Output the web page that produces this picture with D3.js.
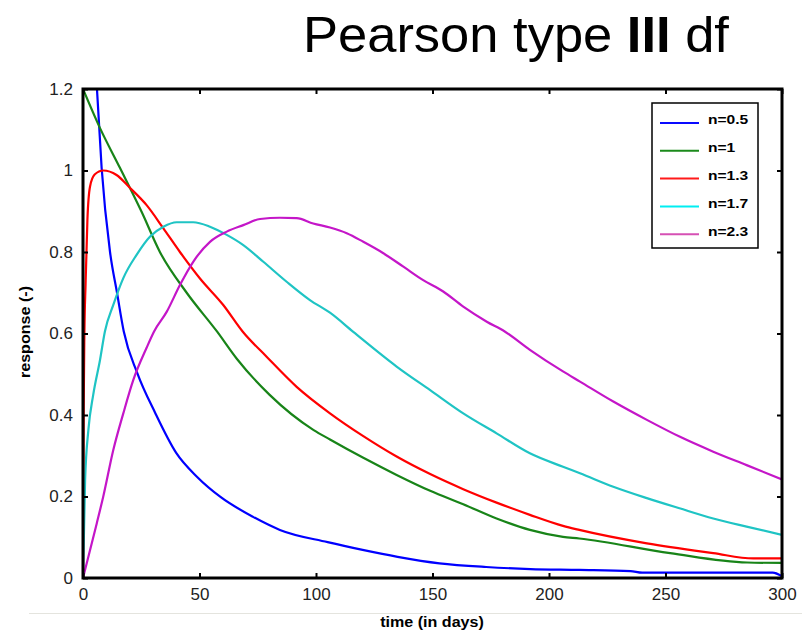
<!DOCTYPE html>
<html>
<head>
<meta charset="utf-8">
<script src="https://cdn.jsdelivr.net/npm/d3@7"></script>
<style>
  body { margin: 0; background: #fff; }
  svg { display: block; font-family: "Liberation Sans", Arial, sans-serif; }
</style>
</head>
<body>
<svg id="mysvg" width="802" height="632"></svg>
<script>
// values, [time in days, response]
var n05 = [[2, 2.0], [4, 1.42], [6, 1.2], [8, 1.006], [11.6, 0.80], [14.6, 0.70], [17.5, 0.605], [23.3, 0.503],
  [31, 0.405], [40, 0.307], [49, 0.248], [59, 0.199], [73, 0.150], [84.5, 0.118], [105, 0.088], [120, 0.069],
  [135, 0.052], [153, 0.036], [173, 0.027], [192, 0.022], [213, 0.020], [235, 0.017], [240, 0.013], [296, 0.013], [300, 0.004]];
var n1 = [[0, 1.2], [7.3, 1.104], [15.9, 1.006], [25.2, 0.898], [33, 0.80], [44.5, 0.70], [57.5, 0.605], [66, 0.538],
  [80, 0.45], [99, 0.363], [106, 0.340], [120.3, 0.295], [134.6, 0.253], [149, 0.214], [163.2, 0.181], [177.5, 0.146],
  [191.8, 0.118], [206, 0.101], [213, 0.097], [252, 0.061], [285, 0.038], [300, 0.037]];
var n13 = [[0, 0], [0.3, 0.42], [0.6, 0.6], [1.1, 0.72], [1.9, 0.88], [3, 0.96], [5, 0.99], [8.7, 1.0], [14.4, 0.989],
  [20.2, 0.957], [27.3, 0.915], [34.5, 0.858], [41.6, 0.80], [50.2, 0.735], [60.2, 0.67], [68.5, 0.605], [78.8, 0.543],
  [91.7, 0.469], [106, 0.404], [120.3, 0.348], [134.6, 0.298], [149, 0.255], [163.2, 0.218], [177.5, 0.185],
  [191.8, 0.155], [206, 0.128], [213, 0.118], [242, 0.085], [270.5, 0.061], [287.7, 0.048], [300, 0.048]];
var n17 = [[0, 0], [0.9, 0.24], [2.3, 0.363], [4.4, 0.45], [7.3, 0.535], [9.4, 0.605], [13, 0.67], [17.3, 0.736],
  [23, 0.793], [28.8, 0.838], [34.5, 0.862], [40.2, 0.873], [47.3, 0.873], [54.5, 0.862], [61.7, 0.842], [68.8, 0.817],
  [77.4, 0.776], [87.4, 0.727], [97.4, 0.682], [106, 0.651], [116, 0.604], [134.6, 0.519], [149, 0.461], [163.2, 0.404],
  [177.5, 0.355], [191.8, 0.306], [206, 0.273], [213.3, 0.257], [227.6, 0.224], [242, 0.196], [256, 0.171],
  [270.5, 0.146], [284.8, 0.126], [300, 0.106]];
var n23 = [[0, 0], [1.6, 0.036], [5.9, 0.134], [8.7, 0.2], [13, 0.314], [17.3, 0.404], [21.6, 0.486], [27.3, 0.565],
  [30.5, 0.605], [35.9, 0.653], [41.6, 0.719], [47.3, 0.776], [54.5, 0.825], [61.7, 0.85], [68.8, 0.866], [76, 0.881],
  [84.5, 0.884], [91.7, 0.883], [98.8, 0.87], [106, 0.86], [113.2, 0.846], [120.3, 0.825], [128.9, 0.797],
  [137.5, 0.764], [146, 0.731], [154.6, 0.703], [163.2, 0.666], [173.3, 0.629], [181, 0.605], [191.8, 0.56],
  [206, 0.507], [213.3, 0.482], [227.6, 0.433], [242, 0.388], [256, 0.347], [270.5, 0.31], [284.8, 0.277], [300, 0.242]];

var seriesNames = ["n=0.5", "n=1", "n=1.3", "n=1.7", "n=2.3"];
var seriesData = [n05, n1, n13, n17, n23];
var lineColors = ["#0000ff", "#188418", "#ff0000", "#1fc4c4", "#c416c8"];
var legendColors = ["#0a0aff", "#1b8a1b", "#ff1a1a", "#00eef2", "#d650b4"];
var xTicks = [0, 50, 100, 150, 200, 250, 300];
var yTicks = [0, 0.2, 0.4, 0.6, 0.8, 1, 1.2];

var svg = d3.select("#mysvg");
var x0 = 83, x1 = 782, yTop = 89, yBot = 578;

var xScale = d3.scaleLinear().domain([0, 300]).range([x0, x1]);
var yScale = d3.scaleLinear().domain([0, 1.2]).range([yBot, yTop]);

// title
var title = svg.append("text")
  .attr("transform", "translate(303,52) scale(1.05,1)")
  .attr("font-size", 50)
  .attr("fill", "#000");
title.append("tspan").text("Pearson type ");
title.append("tspan").attr("font-weight", "bold").text("III");
title.append("tspan").text(" df");

// faint line under the figure
svg.append("line")
  .attr("x1", 29).attr("x2", 802).attr("y1", 613.5).attr("y2", 613.5)
  .attr("stroke", "#e4e4de").attr("stroke-width", 1);

svg.append("clipPath").attr("id", "plotclip")
  .append("rect").attr("x", x0).attr("y", yTop).attr("width", x1 - x0).attr("height", yBot - yTop);

var line = d3.line()
  .x(function (d) { return xScale(d[0]); })
  .y(function (d) { return yScale(d[1]); })
  .curve(d3.curveMonotoneX);

svg.append("g").attr("clip-path", "url(#plotclip)")
  .selectAll("path").data(seriesData).enter().append("path")
  .attr("d", line)
  .attr("fill", "none")
  .attr("stroke", function (d, i) { return lineColors[i]; })
  .attr("stroke-width", 2.2)
  .attr("stroke-linejoin", "round");

function styleAxis(g, labels) {
  g.select(".domain").remove();
  g.selectAll(".tick line").attr("stroke", "#000").attr("stroke-width", 2);
  if (labels) {
    g.selectAll(".tick text").attr("font-size", 17).attr("fill", "#222")
      .attr("font-family", "Liberation Sans, Arial, sans-serif");
  } else {
    g.selectAll(".tick text").remove();
  }
}

svg.append("g").attr("transform", "translate(0," + yBot + ")")
  .call(d3.axisBottom(xScale).tickValues(xTicks).tickSizeInner(-5).tickSizeOuter(0).tickPadding(10))
  .call(styleAxis, true);
svg.append("g").attr("transform", "translate(0," + yTop + ")")
  .call(d3.axisTop(xScale).tickValues(xTicks).tickSizeInner(-5).tickSizeOuter(0))
  .call(styleAxis, false);
svg.append("g").attr("transform", "translate(" + x0 + ",0)")
  .call(d3.axisLeft(yScale).tickValues(yTicks).tickFormat(d3.format("")).tickSizeInner(-5).tickSizeOuter(0).tickPadding(10))
  .call(styleAxis, true);
svg.append("g").attr("transform", "translate(" + x1 + ",0)")
  .call(d3.axisRight(yScale).tickValues(yTicks).tickSizeInner(-5).tickSizeOuter(0))
  .call(styleAxis, false);

// frame
svg.append("rect")
  .attr("x", x0).attr("y", yTop).attr("width", x1 - x0).attr("height", yBot - yTop)
  .attr("fill", "none").attr("stroke", "#000").attr("stroke-width", 3);

// axis titles
svg.append("text")
  .attr("transform", "translate(432,627) scale(1.15,1)")
  .attr("text-anchor", "middle")
  .attr("font-size", 14).attr("font-weight", "bold")
  .text("time (in days)");
svg.append("text")
  .attr("transform", "translate(30,332) rotate(-90) scale(1.15,1)")
  .attr("text-anchor", "middle")
  .attr("font-size", 14).attr("font-weight", "bold")
  .text("response (-)");

// legend
var legend = svg.append("g");
legend.append("rect")
  .attr("x", 652).attr("y", 103).attr("width", 106).attr("height", 145)
  .attr("fill", "#fff").attr("stroke", "#000").attr("stroke-width", 1.5);
var item = legend.selectAll("g.item").data(seriesNames).enter().append("g")
  .attr("class", "item")
  .attr("transform", function (d, i) { return "translate(0," + (123 + i * 27.8) + ")"; });
item.append("line")
  .attr("x1", 660).attr("x2", 699).attr("y1", 0).attr("y2", 0)
  .attr("stroke", function (d, i) { return legendColors[i]; })
  .attr("stroke-width", 2);
item.append("text")
  .attr("transform", "translate(708,0) scale(1.2,1)")
  .attr("dy", "0.1em")
  .attr("font-size", 13).attr("font-weight", "bold")
  .text(function (d) { return d; });
</script>
</body>
</html>
